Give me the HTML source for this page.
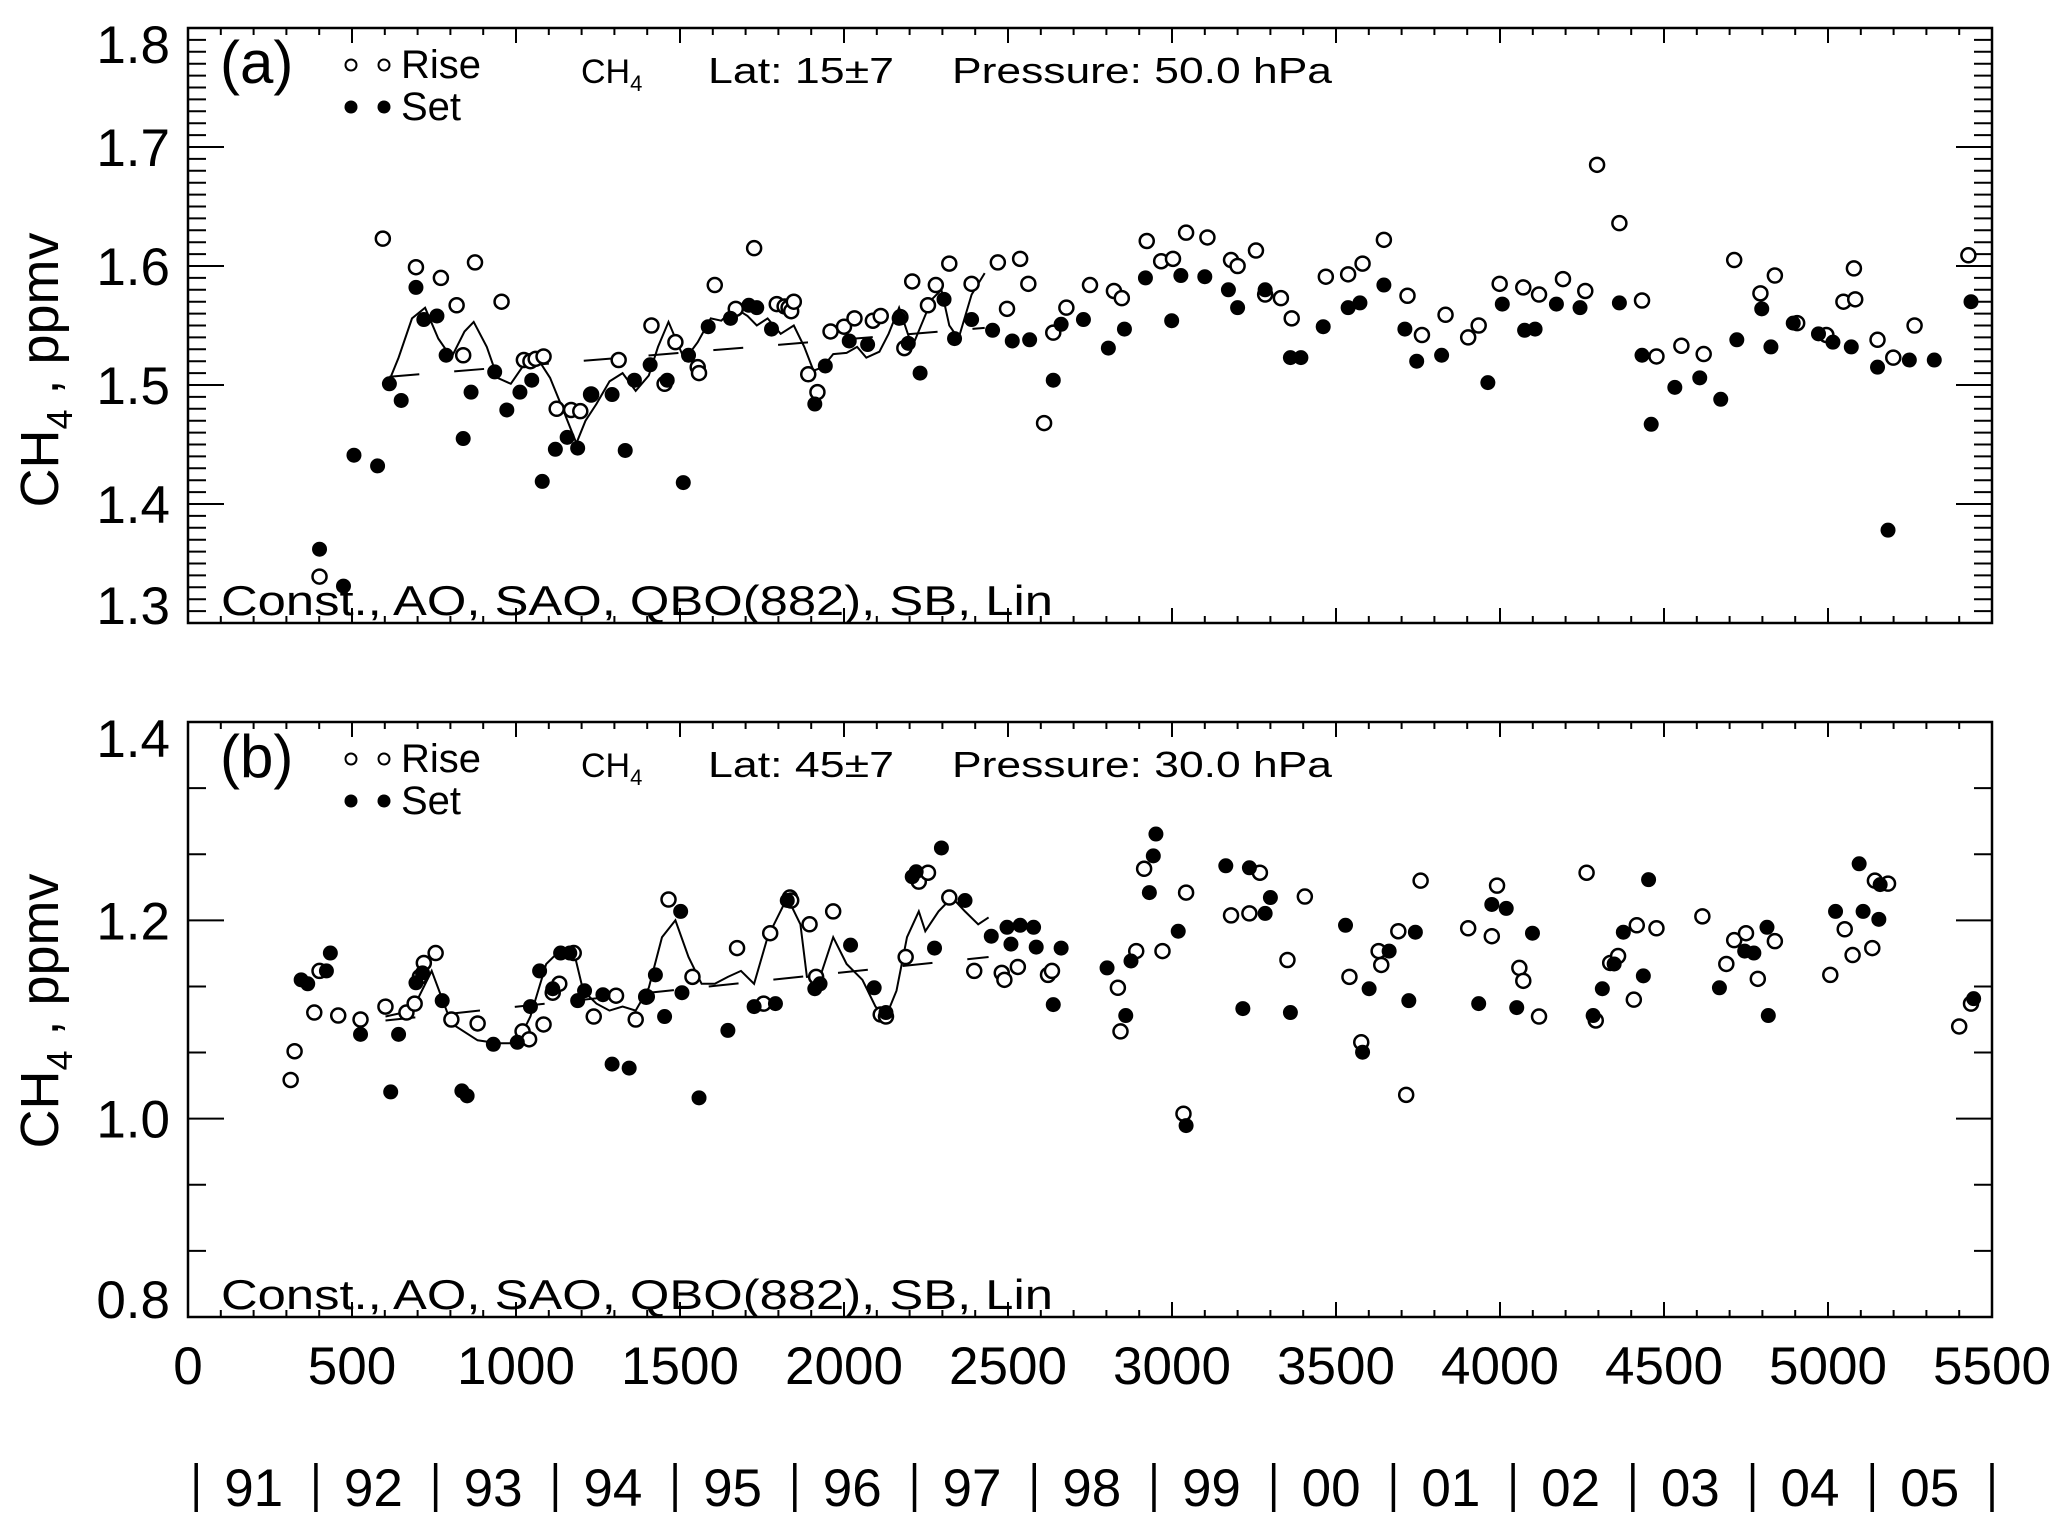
<!DOCTYPE html>
<html><head><meta charset="utf-8">
<style>
html,body{margin:0;padding:0;background:#fff;}
svg{display:block;font-family:"Liberation Sans",sans-serif;}
</style></head>
<body>
<svg id="chart" width="2067" height="1526" viewBox="0 0 2067 1526" xmlns="http://www.w3.org/2000/svg"></svg>
<script>
// ---------- data ----------
const xTicks = [0,500,1000,1500,2000,2500,3000,3500,4000,4500,5000,5500];
const yearLabels = ["91","92","93","94","95","96","97","98","99","00","01","02","03","04","05"];
const yTicksA = [1.3,1.4,1.5,1.6,1.7,1.8];
const yTicksB = [0.8,1.0,1.2,1.4];

const riseDayA = [401,594,695,771,819,839,875,956,1024,1044,1060,1084,1124,1168,1196,1229,1313,1413,1453,1486,1554,1558,1606,1670,1726,1795,1819,1831,1839,1847,1891,1919,1959,2000,2032,2088,2112,2172,2184,2208,2256,2280,2321,2389,2469,2497,2537,2562,2610,2638,2678,2750,2823,2847,2923,2967,3003,3043,3108,3180,3200,3256,3284,3332,3365,3469,3537,3581,3646,3718,3762,3834,3903,3935,3999,4071,4119,4192,4260,4296,4364,4433,4477,4553,4621,4714,4794,4838,4906,4995,5047,5079,5083,5151,5199,5264,5428];
const riseValA = [1.339,1.623,1.599,1.590,1.567,1.525,1.603,1.570,1.521,1.520,1.522,1.524,1.480,1.479,1.478,1.492,1.521,1.550,1.501,1.536,1.515,1.510,1.584,1.564,1.615,1.568,1.566,1.565,1.562,1.570,1.509,1.494,1.545,1.549,1.556,1.554,1.558,1.557,1.531,1.587,1.567,1.584,1.602,1.585,1.603,1.564,1.606,1.585,1.468,1.544,1.565,1.584,1.579,1.573,1.621,1.604,1.606,1.628,1.624,1.605,1.600,1.613,1.576,1.573,1.556,1.591,1.593,1.602,1.622,1.575,1.542,1.559,1.540,1.550,1.585,1.582,1.576,1.589,1.579,1.685,1.636,1.571,1.524,1.533,1.526,1.605,1.577,1.592,1.552,1.542,1.570,1.598,1.572,1.538,1.523,1.550,1.609];
const setDayA = [401,474,506,578,614,650,695,719,759,787,839,863,935,972,1012,1048,1080,1120,1156,1188,1229,1293,1333,1361,1409,1461,1510,1526,1586,1654,1710,1734,1779,1911,1943,2016,2072,2168,2196,2232,2305,2337,2389,2453,2513,2566,2638,2662,2730,2806,2855,2919,2999,3027,3100,3172,3200,3284,3361,3393,3461,3537,3573,3646,3710,3746,3822,3963,4007,4075,4107,4172,4244,4364,4433,4461,4533,4609,4673,4722,4798,4826,4894,4971,5015,5071,5151,5183,5248,5324,5436];
const setValA = [1.362,1.331,1.441,1.432,1.501,1.487,1.582,1.555,1.558,1.525,1.455,1.494,1.511,1.479,1.494,1.504,1.419,1.446,1.456,1.447,1.492,1.492,1.445,1.504,1.517,1.504,1.418,1.525,1.549,1.556,1.567,1.565,1.547,1.484,1.516,1.537,1.534,1.556,1.535,1.510,1.572,1.539,1.555,1.546,1.537,1.538,1.504,1.551,1.555,1.531,1.547,1.590,1.554,1.592,1.591,1.580,1.565,1.580,1.523,1.523,1.549,1.565,1.569,1.584,1.547,1.520,1.525,1.502,1.568,1.546,1.547,1.568,1.565,1.569,1.525,1.467,1.498,1.506,1.488,1.538,1.564,1.532,1.552,1.543,1.536,1.532,1.515,1.378,1.521,1.521,1.570];
const fitDayA = [614,642,683,723,763,803,843,871,911,944,984,1024,1064,1104,1144,1184,1212,1245,1285,1325,1365,1405,1433,1465,1514,1554,1594,1626,1666,1706,1734,1767,1807,1847,1879,1907,1935,1967,2008,2040,2068,2108,2136,2168,2208,2268,2297,2321,2349,2389,2429];
const fitValA = [1.504,1.523,1.556,1.565,1.539,1.523,1.545,1.553,1.532,1.506,1.501,1.517,1.523,1.506,1.479,1.451,1.470,1.484,1.503,1.510,1.495,1.508,1.532,1.553,1.521,1.536,1.556,1.554,1.565,1.558,1.550,1.556,1.543,1.550,1.532,1.512,1.515,1.526,1.527,1.532,1.523,1.528,1.543,1.565,1.532,1.572,1.580,1.550,1.539,1.576,1.594];
const trendDayA = [614,2429];
const trendValA = [1.507,1.548];

const riseDayB = [313,325,385,401,458,526,602,666,691,707,719,755,803,883,1020,1040,1084,1112,1132,1176,1237,1305,1365,1397,1465,1538,1674,1755,1775,1835,1839,1895,1915,1967,2112,2128,2188,2228,2256,2321,2397,2481,2489,2530,2622,2634,2835,2843,2891,2915,2971,3035,3043,3180,3236,3268,3352,3405,3541,3577,3630,3638,3690,3714,3758,3903,3975,3991,4059,4071,4119,4264,4292,4336,4360,4408,4417,4477,4617,4690,4714,4750,4786,4838,5007,5051,5075,5135,5143,5183,5400,5436];
const riseValB = [1.039,1.068,1.107,1.149,1.104,1.100,1.113,1.107,1.116,1.143,1.157,1.167,1.100,1.096,1.088,1.080,1.095,1.127,1.136,1.167,1.103,1.124,1.100,1.123,1.221,1.143,1.172,1.116,1.187,1.223,1.220,1.196,1.143,1.209,1.105,1.103,1.163,1.239,1.248,1.223,1.149,1.147,1.140,1.153,1.145,1.149,1.132,1.088,1.169,1.252,1.169,1.005,1.228,1.205,1.207,1.248,1.160,1.224,1.143,1.077,1.169,1.155,1.189,1.024,1.240,1.192,1.184,1.235,1.152,1.139,1.103,1.248,1.099,1.157,1.164,1.120,1.195,1.192,1.204,1.156,1.180,1.187,1.141,1.179,1.145,1.191,1.165,1.172,1.240,1.237,1.093,1.116];
const setDayB = [345,365,422,434,526,618,642,695,715,775,835,851,931,1004,1044,1072,1112,1136,1164,1188,1209,1265,1293,1345,1401,1425,1453,1502,1506,1558,1646,1726,1791,1827,1911,1927,2020,2092,2128,2208,2220,2276,2297,2369,2449,2497,2509,2537,2578,2586,2638,2662,2802,2859,2875,2931,2943,2951,3019,3043,3164,3216,3236,3284,3300,3361,3529,3581,3601,3662,3722,3742,3935,3975,4019,4051,4099,4284,4312,4348,4376,4437,4453,4669,4746,4774,4814,4818,5023,5095,5107,5155,5159,5444];
const setValB = [1.140,1.136,1.149,1.167,1.085,1.027,1.085,1.137,1.147,1.119,1.028,1.023,1.075,1.077,1.113,1.149,1.131,1.167,1.167,1.119,1.129,1.125,1.055,1.051,1.123,1.145,1.103,1.209,1.127,1.021,1.089,1.113,1.116,1.220,1.131,1.136,1.175,1.132,1.107,1.244,1.249,1.172,1.273,1.220,1.184,1.193,1.176,1.195,1.193,1.173,1.115,1.172,1.152,1.104,1.159,1.228,1.265,1.287,1.189,0.993,1.255,1.111,1.253,1.207,1.223,1.107,1.195,1.067,1.131,1.169,1.119,1.188,1.116,1.216,1.212,1.112,1.187,1.104,1.131,1.156,1.188,1.144,1.241,1.132,1.169,1.167,1.193,1.104,1.209,1.257,1.209,1.201,1.236,1.121];
const fitDayB = [602,683,743,803,883,944,1004,1044,1092,1132,1176,1205,1245,1285,1325,1365,1405,1445,1486,1526,1566,1606,1646,1686,1726,1767,1827,1867,1887,1927,1967,2008,2056,2096,2128,2160,2192,2228,2248,2288,2329,2369,2409,2441];
const fitValB = [1.103,1.109,1.149,1.096,1.079,1.076,1.076,1.103,1.156,1.169,1.169,1.129,1.116,1.109,1.113,1.109,1.132,1.183,1.200,1.163,1.136,1.136,1.143,1.149,1.136,1.183,1.223,1.196,1.143,1.143,1.183,1.156,1.140,1.113,1.103,1.129,1.183,1.209,1.189,1.209,1.223,1.209,1.196,1.203];
const trendDayB = [602,2441];
const trendValB = [1.099,1.163];

// ---------- layout ----------
const NS = "http://www.w3.org/2000/svg";
const svg = document.getElementById("chart");
const L = 188, R = 1992;
const xMax = 5500;
function xs(d){ return L + (d / xMax) * (R - L); }
function mk(tag, attrs, parent){
  const e = document.createElementNS(NS, tag);
  for (const k in attrs) e.setAttribute(k, attrs[k]);
  (parent || svg).appendChild(e);
  return e;
}

function panel(cfg){
  const g = mk("g", {});
  
  
  const T = cfg.top, B = cfg.bottom;
  const ys = v => B - (v - cfg.ymin) / (cfg.ymax - cfg.ymin) * (B - T);

  const frame = mk("rect", {x:L, y:T, width:R-L, height:B-T, fill:"none", stroke:"#000", "stroke-width":2.5}, g);
  
  

  for (let d = 0; d <= xMax; d += 100){
    const major = d % 500 === 0;
    const len = major ? 15 : 7;
    const x = xs(d);
    const t1 = mk("line", {x1:x, x2:x, y1:B, y2:B-len, stroke:"#000", "stroke-width":2}, g);
    
    
    const t2 = mk("line", {x1:x, x2:x, y1:T, y2:T+len, stroke:"#000", "stroke-width":2}, g);
    
    
  }
  const nMinor = Math.round((cfg.ymax - cfg.ymin) / cfg.minor);
  for (let i = 0; i <= nMinor; i++){
    const v = cfg.ymin + i * cfg.minor;
    const major = cfg.labels.some(t => Math.abs(t - v) < 1e-6);
    const len = major ? 36 : 18;
    const y = ys(v);
    const a = mk("line", {x1:L, x2:L+len, y1:y, y2:y, stroke:"#000", "stroke-width":2}, g);
    
    
    const b = mk("line", {x1:R, x2:R-len, y1:y, y2:y, stroke:"#000", "stroke-width":2}, g);
    
    
  }
  cfg.labels.forEach(v => {
    let y = ys(v);
    y = Math.max(T + 16, Math.min(B - 18, y));
    const t = mk("text", {x:170, y:y + 19, "text-anchor":"end", "font-size":53, fill:"#000"}, g);
    t.textContent = v.toFixed(1);
    
    
  });
  const yt = mk("text", {transform:`translate(58,${cfg.titleY}) rotate(-90)`, "text-anchor":"middle", "font-size":54, fill:"#000"}, g);
  
  
  const s1 = mk("tspan", {}, yt); s1.textContent = "CH";
  const s2 = mk("tspan", {dy:14, "font-size":36}, yt); s2.textContent = "4";
  const s3 = mk("tspan", {dy:-14}, yt); s3.textContent = " , ppmv";

  const pl = mk("text", {x:220, y:T+55, "font-size":60, fill:"#000"}, g);
  pl.textContent = cfg.letter;
  
  

  const lg = mk("g", {}, g);
  
  
  [351,384].forEach(cx => {
    const c = mk("circle", {cx:cx, cy:T+37, r:5.5, fill:"none", stroke:"#000", "stroke-width":2}, lg);
    
    
    const f = mk("circle", {cx:cx, cy:T+79, r:6.5, fill:"#000"}, lg);
    
    
  });
  const lr = mk("text", {x:401, y:T+50, "font-size":40, fill:"#000"}, lg);
  lr.textContent = "Rise";
  
  
  const ls = mk("text", {x:401, y:T+92, "font-size":40, fill:"#000"}, lg);
  ls.textContent = "Set";
  
  

  const hy = T + 55;
  const h1 = mk("text", {x:581, y:hy, "font-size":34, fill:"#000"}, g);
  
  
  const h1a = mk("tspan", {}, h1); h1a.textContent = "CH";
  const h1b = mk("tspan", {dy:8, "font-size":22}, h1); h1b.textContent = "4";
  const h2 = mk("text", {x:708, y:hy, "font-size":36, fill:"#000", textLength:186, lengthAdjust:"spacingAndGlyphs"}, g);
  h2.textContent = "Lat: " + cfg.lat;
  
  
  const h3 = mk("text", {x:952, y:hy, "font-size":36, fill:"#000", textLength:380, lengthAdjust:"spacingAndGlyphs"}, g);
  h3.textContent = "Pressure: " + cfg.pres + "  hPa";
  
  

  const cap = mk("text", {x:221, y:B-8, "font-size":42, fill:"#000", textLength:832, lengthAdjust:"spacingAndGlyphs"}, g);
  cap.textContent = "Const., AO, SAO, QBO(882), SB, Lin";
  
  

  const tp = cfg.trendDay.map((d,i) => xs(d).toFixed(1) + "," + ys(cfg.trendVal[i]).toFixed(1)).join(" ");
  const tr = mk("polyline", {points:tp, fill:"none", stroke:"#000", "stroke-width":2, "stroke-dasharray":"30 35"}, g);
  
  
  const fp = cfg.fitDay.map((d,i) => xs(d).toFixed(1) + "," + ys(cfg.fitVal[i]).toFixed(1)).join(" ");
  const fl = mk("polyline", {points:fp, fill:"none", stroke:"#000", "stroke-width":2}, g);
  
  

  cfg.riseDay.forEach((d,i) => {
    const c = mk("circle", {cx:xs(d), cy:ys(cfg.riseVal[i]), r:7, fill:"#fff", stroke:"#000", "stroke-width":2.5}, g);
    
    
  });
  cfg.setDay.forEach((d,i) => {
    const c = mk("circle", {cx:xs(d), cy:ys(cfg.setVal[i]), r:7.5, fill:"#000"}, g);
    
    
  });
}

panel({name:"panel-a", letter:"(a)", top:28, bottom:623, ymin:1.3, ymax:1.8, minor:0.01, labels:yTicksA,
  titleY:370, lat:"15±7", pres:"50.0",
  riseDay:riseDayA, riseVal:riseValA, setDay:setDayA, setVal:setValA,
  fitDay:fitDayA, fitVal:fitValA, trendDay:trendDayA, trendVal:trendValA});
panel({name:"panel-b", letter:"(b)", top:722, bottom:1317, ymin:0.8, ymax:1.4, minor:0.2/3, labels:yTicksB,
  titleY:1011, lat:"45±7", pres:"30.0",
  riseDay:riseDayB, riseVal:riseValB, setDay:setDayB, setVal:setValB,
  fitDay:fitDayB, fitVal:fitValB, trendDay:trendDayB, trendVal:trendValB});

xTicks.forEach(d => {
  const t = mk("text", {x:xs(d), y:1384, "text-anchor":"middle", "font-size":53, fill:"#000"});
  t.textContent = String(d);
  
  
});
const yearW = 365 * (R - L) / xMax;
const yearStart = R - yearLabels.length * yearW;
for (let i = 0; i <= yearLabels.length; i++){
  const x = yearStart + i * yearW;
  const b = mk("line", {x1:x, x2:x, y1:1463, y2:1512, stroke:"#000", "stroke-width":3.5});
  
  
}
yearLabels.forEach((lab, i) => {
  const t = mk("text", {x:yearStart + i * yearW + 28, y:1506, "font-size":53, fill:"#000"});
  t.textContent = lab;
  
  
});
</script>
</body></html>
